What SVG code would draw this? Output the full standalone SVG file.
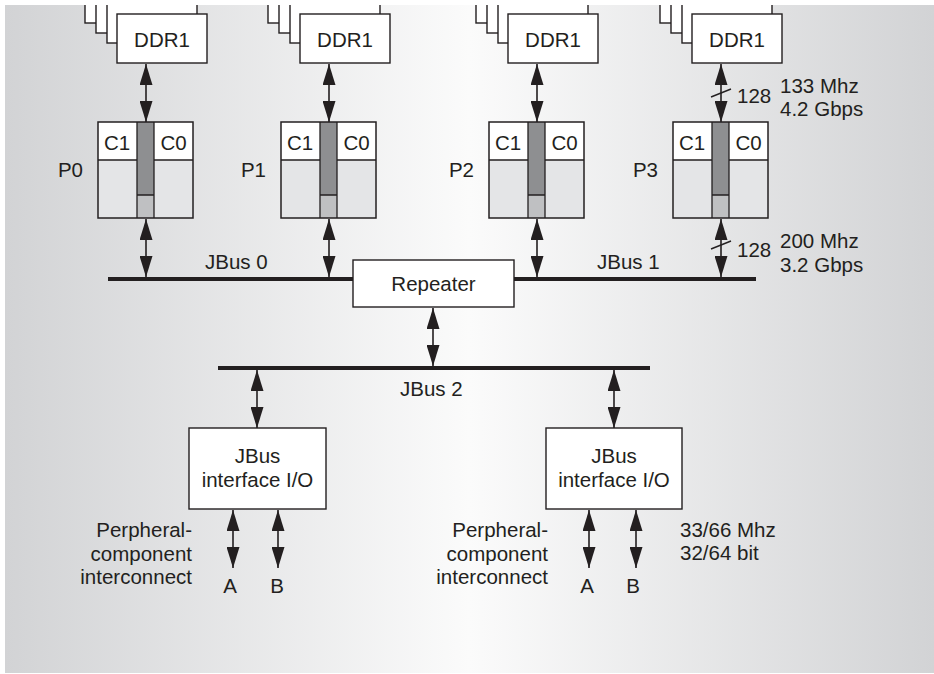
<svg xmlns="http://www.w3.org/2000/svg" width="934" height="674" viewBox="0 0 934 674">
<defs>
<linearGradient id="bg" x1="0" y1="0" x2="1" y2="0">
<stop offset="0" stop-color="#d2d3d5"/>
<stop offset="0.5" stop-color="#fbfbfb"/>
<stop offset="1" stop-color="#d2d3d5"/>
</linearGradient>
<clipPath id="panel"><rect x="5" y="5" width="929" height="668"/></clipPath>
<marker id="ah" viewBox="0 0 21 13" refX="21" refY="6.5" markerWidth="21" markerHeight="13" markerUnits="userSpaceOnUse" orient="auto-start-reverse">
<path d="M0,0 L21,6.5 L0,13 z" fill="#231f20"/>
</marker>
<g id="ddr">
<rect x="-32" y="-40" width="90" height="49" class="box"/>
<rect x="-21" y="-30" width="90" height="49" class="box"/>
<rect x="-10" y="-20" width="90" height="49" class="box"/>
</g>
<g id="proc">
<rect x="0" y="0" width="95" height="96" fill="#e4e5e7" stroke="none"/>
<rect x="0" y="0" width="39" height="38" fill="#ffffff" stroke="none"/>
<rect x="56" y="0" width="39" height="38" fill="#ffffff" stroke="none"/>
<rect x="39" y="0" width="17" height="73" fill="#8e8f91" stroke="none"/>
<rect x="39" y="73" width="17" height="23" fill="#bfc0c2" stroke="none"/>
<path d="M0,38 H39 M56,38 H95 M39,0 V96 M56,0 V96 M39,73 H56" fill="none" stroke="#231f20" stroke-width="1.3"/>
<rect x="0" y="0" width="95" height="96" fill="none" stroke="#231f20" stroke-width="1.5"/>
<text x="19" y="28" class="t" text-anchor="middle">C1</text>
<text x="75.5" y="28" class="t" text-anchor="middle">C0</text>
</g>
</defs>
<style>
.box{fill:#ffffff;stroke:#231f20;stroke-width:1.4}
.t{font-family:"Liberation Sans",Arial,sans-serif;font-size:20.5px;fill:#231f20}
.bus{stroke:#231f20;stroke-width:4;fill:none}
.conn{stroke:#231f20;stroke-width:1.6;fill:none;marker-start:url(#ah);marker-end:url(#ah)}
.slash{stroke:#231f20;stroke-width:1.4;fill:none}
</style>
<rect x="0" y="0" width="934" height="674" fill="#ffffff"/>
<rect x="5" y="5" width="929" height="668" fill="url(#bg)"/>

<g id="connectors">
<line class="bus" x1="108" y1="279" x2="756" y2="279"/>
<line class="bus" x1="218" y1="368" x2="650" y2="368"/>
<line class="conn" x1="146" y1="64" x2="146" y2="122"/>
<line class="conn" x1="329" y1="64" x2="329" y2="122"/>
<line class="conn" x1="537" y1="64" x2="537" y2="122"/>
<line class="conn" x1="721" y1="64" x2="721" y2="122"/>
<line class="conn" x1="146" y1="219" x2="146" y2="277"/>
<line class="conn" x1="329" y1="219" x2="329" y2="277"/>
<line class="conn" x1="537" y1="219" x2="537" y2="277"/>
<line class="conn" x1="721" y1="219" x2="721" y2="277"/>
<line class="conn" x1="433" y1="308" x2="433" y2="366"/>
<line class="conn" x1="257" y1="370" x2="257" y2="428"/>
<line class="conn" x1="614" y1="370" x2="614" y2="428"/>
<line class="conn" x1="233" y1="510" x2="233" y2="568"/>
<line class="conn" x1="278" y1="510" x2="278" y2="568"/>
<line class="conn" x1="589" y1="510" x2="589" y2="568"/>
<line class="conn" x1="636" y1="510" x2="636" y2="568"/>
<line class="slash" x1="711" y1="97" x2="731" y2="89"/>
<line class="slash" x1="711" y1="249" x2="731" y2="241"/>
</g>

<g id="ddr0" clip-path="url(#panel)">
<use href="#ddr" x="117" y="14"/>
<rect x="117" y="14" width="90" height="49" class="box"/>
<text x="162" y="47" class="t" text-anchor="middle">DDR1</text>
</g>
<g id="ddr1" clip-path="url(#panel)">
<use href="#ddr" x="300" y="14"/>
<rect x="300" y="14" width="90" height="49" class="box"/>
<text x="345" y="47" class="t" text-anchor="middle">DDR1</text>
</g>
<g id="ddr2" clip-path="url(#panel)">
<use href="#ddr" x="508" y="14"/>
<rect x="508" y="14" width="90" height="49" class="box"/>
<text x="553" y="47" class="t" text-anchor="middle">DDR1</text>
</g>
<g id="ddr3" clip-path="url(#panel)">
<use href="#ddr" x="692" y="14"/>
<rect x="692" y="14" width="90" height="49" class="box"/>
<text x="737" y="47" class="t" text-anchor="middle">DDR1</text>
</g>

<g id="p0">
<use href="#proc" x="98" y="122"/>
<text x="83" y="177" class="t" text-anchor="end">P0</text>
</g>
<g id="p1">
<use href="#proc" x="281" y="122"/>
<text x="266" y="177" class="t" text-anchor="end">P1</text>
</g>
<g id="p2">
<use href="#proc" x="489" y="122"/>
<text x="474" y="177" class="t" text-anchor="end">P2</text>
</g>
<g id="p3">
<use href="#proc" x="673" y="122"/>
<text x="658" y="177" class="t" text-anchor="end">P3</text>
</g>

<g id="repeater">
<rect x="353" y="260" width="161" height="47" class="box"/>
<text x="433.5" y="291" class="t" text-anchor="middle">Repeater</text>
</g>

<g id="bus-labels">
<text x="205" y="269" class="t">JBus 0</text>
<text x="597" y="269" class="t">JBus 1</text>
<text x="400" y="396" class="t">JBus 2</text>
</g>

<g id="io0">
<rect x="189" y="428" width="137" height="81" class="box"/>
<text x="257.5" y="463" class="t" text-anchor="middle">JBus</text>
<text x="257.5" y="487" class="t" text-anchor="middle">interface I/O</text>
</g>
<g id="io1">
<rect x="546" y="428" width="136" height="81" class="box"/>
<text x="614" y="463" class="t" text-anchor="middle">JBus</text>
<text x="614" y="487" class="t" text-anchor="middle">interface I/O</text>
</g>

<g id="labels">
<text x="737" y="103" class="t">128</text>
<text x="780" y="93" class="t">133 Mhz</text>
<text x="780" y="116" class="t">4.2 Gbps</text>
<text x="737" y="257" class="t">128</text>
<text x="780" y="248" class="t">200 Mhz</text>
<text x="780" y="272" class="t">3.2 Gbps</text>
<text x="192" y="537" class="t" text-anchor="end">Perpheral-</text>
<text x="192" y="561" class="t" text-anchor="end">component</text>
<text x="192" y="584" class="t" text-anchor="end">interconnect</text>
<text x="548" y="537" class="t" text-anchor="end">Perpheral-</text>
<text x="548" y="561" class="t" text-anchor="end">component</text>
<text x="548" y="584" class="t" text-anchor="end">interconnect</text>
<text x="680" y="537" class="t">33/66 Mhz</text>
<text x="680" y="560" class="t">32/64 bit</text>
<text x="230" y="593" class="t" text-anchor="middle">A</text>
<text x="277" y="593" class="t" text-anchor="middle">B</text>
<text x="587" y="593" class="t" text-anchor="middle">A</text>
<text x="633" y="593" class="t" text-anchor="middle">B</text>
</g>
</svg>
